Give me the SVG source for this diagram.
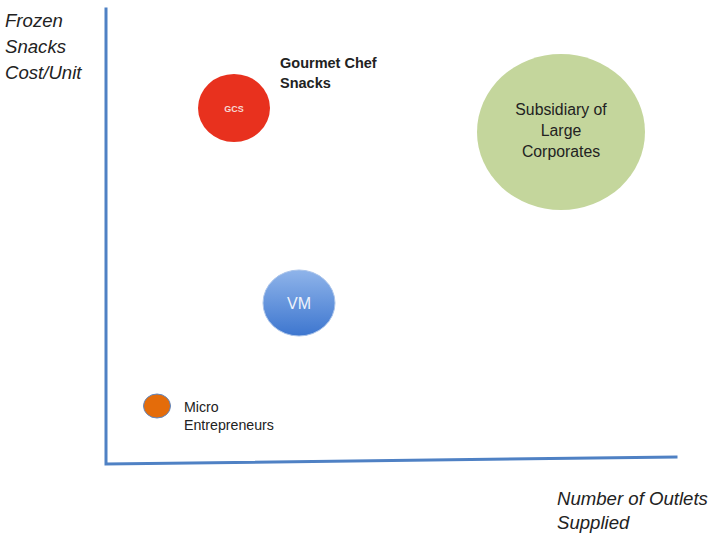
<svg xmlns="http://www.w3.org/2000/svg" width="716" height="535" viewBox="0 0 716 535">
  <style>
    text { font-family: "Liberation Sans", Arial, sans-serif; fill: #222; }
    .axis-label { font-size: 18.6px; font-style: italic; }
    .axis { stroke: #4f81c4; stroke-width: 3; fill: none; stroke-linecap: square; }
    .lbl { font-size: 14.2px; }
  </style>
  <defs>
    <linearGradient id="vmFill" x1="0" y1="0" x2="0" y2="1">
      <stop offset="0" stop-color="#8fb4ea"/>
      <stop offset="1" stop-color="#3d76cf"/>
    </linearGradient>
  </defs>

  <rect width="716" height="535" fill="#ffffff"/>

  <!-- axes -->
  <g id="axes">
    <path class="axis" d="M106 9 L106 464 L676 457"/>
  </g>

  <!-- axis titles -->
  <g id="y-axis-title">
    <text class="axis-label" x="5" y="27">Frozen</text>
    <text class="axis-label" x="5" y="53">Snacks</text>
    <text class="axis-label" x="5" y="79">Cost/Unit</text>
  </g>
  <g id="x-axis-title">
    <text class="axis-label" x="557" y="505">Number of Outlets</text>
    <text class="axis-label" x="557" y="529">Supplied</text>
  </g>

  <!-- Gourmet Chef Snacks -->
  <g id="gcs">
    <ellipse cx="234" cy="108" rx="36" ry="34" fill="#e8311e"/>
    <text x="234" y="112" font-size="9" font-weight="bold" text-anchor="middle" style="fill:#f6d9d4">GCS</text>
    <text x="280" y="68" font-size="14.5" font-weight="bold">Gourmet Chef</text>
    <text x="280" y="88" font-size="14.5" font-weight="bold">Snacks</text>
  </g>

  <!-- Subsidiary of Large Corporates -->
  <g id="large-corporates">
    <ellipse cx="561" cy="132" rx="84" ry="78" fill="#c4d69c"/>
    <text x="561" y="115" font-size="15.8" text-anchor="middle">Subsidiary of</text>
    <text x="561" y="136" font-size="15.8" text-anchor="middle">Large</text>
    <text x="561" y="157" font-size="15.8" text-anchor="middle">Corporates</text>
  </g>

  <!-- VM -->
  <g id="vm">
    <ellipse cx="299" cy="303" rx="36" ry="33" fill="url(#vmFill)" stroke="#a9c3ea" stroke-width="1"/>
    <text x="299" y="309" font-size="16" text-anchor="middle" style="fill:#eef3fb">VM</text>
  </g>

  <!-- Micro Entrepreneurs -->
  <g id="micro">
    <ellipse cx="157" cy="406" rx="13.5" ry="12" fill="#e46c0a" stroke="#5b87c5" stroke-width="1"/>
    <text class="lbl" x="184" y="412">Micro</text>
    <text class="lbl" x="184" y="430">Entrepreneurs</text>
  </g>
</svg>
